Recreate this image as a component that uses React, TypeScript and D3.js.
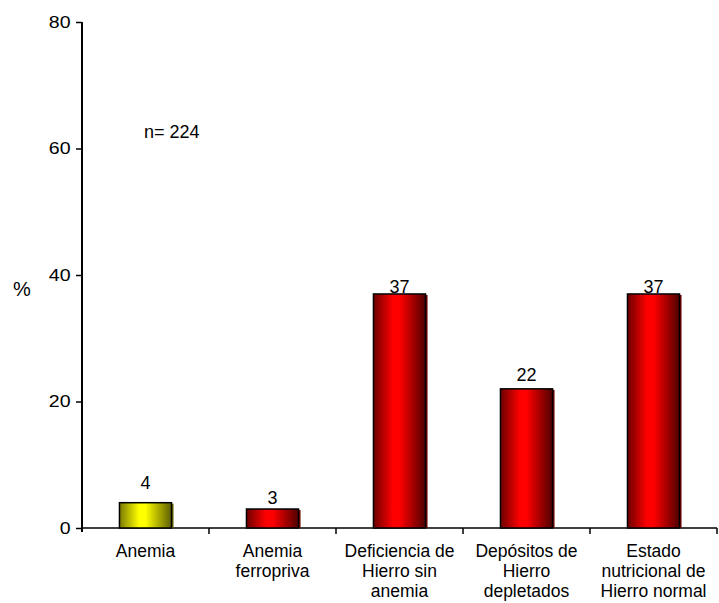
import React, { useEffect, useRef } from 'react';
import * as d3 from 'd3';

const categories = ['Anemia', 'Anemia ferropriva', 'Deficiencia de Hierro sin anemia', 'Depósitos de Hierro depletados', 'Estado nutricional de Hierro normal'];
const categoryLines = [
  ['Anemia'],
  ['Anemia', 'ferropriva'],
  ['Deficiencia de', 'Hierro sin', 'anemia'],
  ['Depósitos de', 'Hierro', 'depletados'],
  ['Estado', 'nutricional de', 'Hierro normal'],
];
const values = [4, 3, 37, 22, 37];
const barColors = ['yellow', 'red', 'red', 'red', 'red'];
const yTicks = [0, 20, 40, 60, 80];

const App: React.FC = () => {
  const svgRef = useRef<SVGSVGElement>(null);
  const width = 719;
  const height = 603;

  useEffect(() => {
    if (!svgRef.current) return;
    const svg = d3.select(svgRef.current);
    svg.selectAll('*').remove();

    const margin = { top: 22, right: 2, bottom: 75, left: 82 };
    const plotH = height - margin.top - margin.bottom;
    const font = 'Arial, "Liberation Sans", sans-serif';

    const defs = svg.append('defs');
    const grads: Record<string, string[]> = {
      red: ['#6e0000', '#ff0000', '#ff0000', '#500000'],
      yellow: ['#7a7a00', '#ffff00', '#ffff00', '#5c5c00'],
    };
    Object.entries(grads).forEach(([k, stops]) => {
      const g = defs.append('linearGradient').attr('id', 'grad-' + k)
        .attr('x1', '0%').attr('x2', '100%').attr('y1', '0%').attr('y2', '0%');
      [0, 0.38, 0.5, 1].forEach((o, i) => {
        g.append('stop').attr('offset', o).attr('stop-color', stops[i]);
      });
    });

    const x = d3.scaleBand<string>()
      .domain(categories)
      .range([margin.left, width - margin.right])
      .paddingInner(0.59)
      .paddingOuter(0.295);

    const y = d3.scaleLinear().domain([0, 80]).range([margin.top + plotH, margin.top]);

    const g = svg.append('g');

    // y axis
    const yAxis = g.append('g')
      .attr('transform', `translate(${margin.left},0)`)
      .call(d3.axisLeft(y).tickValues(yTicks).tickSize(6).tickPadding(5));
    yAxis.select('.domain').attr('stroke', '#000').attr('stroke-width', 2)
      .attr('d', `M0,${y(80)}V${y(0) + 4}`);
    yAxis.selectAll('.tick line').attr('stroke-width', 1.5);
    yAxis.selectAll('.tick text')
      .style('font-family', font).style('font-size', '17px').attr('fill', '#000')
      .attr('transform', 'scale(1.15,1)').attr('x', -10);

    // x axis line + ticks between categories
    const x0 = y(0);
    const step = x.step();
    g.append('line').attr('x1', margin.left).attr('x2', width - margin.right)
      .attr('y1', x0).attr('y2', x0).attr('stroke', '#000').attr('stroke-width', 1.5);
    categories.forEach(c => {
      const bx = (x(c) as number) - x.paddingOuter() * step + step;
      g.append('line').attr('x1', bx).attr('x2', bx).attr('y1', x0).attr('y2', x0 + 6)
        .attr('stroke', '#000').attr('stroke-width', 1.5);
    });

    // gap between value label and bar top, as in the original
    const labelGap = [14, 5, 1, 8, 1];

    // bars
    categories.forEach((c, i) => {
      const bx = x(c) as number;
      const bw = x.bandwidth();
      const top = y(values[i]);
      g.append('rect').attr('x', bx + 2).attr('y', top + 1).attr('width', bw).attr('height', x0 - top - 1)
        .attr('fill', barColors[i] === 'red' ? '#7a0000' : '#6a6a00');
      g.append('rect').attr('x', bx).attr('y', top).attr('width', bw).attr('height', x0 - top)
        .attr('fill', `url(#grad-${barColors[i]})`).attr('stroke', '#000').attr('stroke-width', 1.5);
      g.append('text').attr('x', bx + bw / 2).attr('y', top - labelGap[i])
        .attr('text-anchor', 'middle').style('font-family', font).style('font-size', '18px')
        .text(values[i]);
      const lines = categoryLines[i];
      const t = g.append('text').attr('text-anchor', 'middle')
        .style('font-family', font).style('font-size', '17.5px').attr('fill', '#000');
      lines.forEach((l, j) => {
        t.append('tspan').attr('x', bx + bw / 2).attr('y', 557 + j * 20).text(l);
      });
    });

    // % label
    g.append('text').attr('x', 22).attr('y', 296).attr('text-anchor', 'middle')
      .style('font-family', font).style('font-size', '20px').text('%');

    // n label
    g.append('text').attr('x', 144).attr('y', 138)
      .style('font-family', font).style('font-size', '18px').text('n= 224');
  }, []);

  return (
    <svg ref={svgRef} width={width} height={height}
      style={{ position: 'absolute', left: 0, top: 0, background: '#fff' }} />
  );
};

export default App;
